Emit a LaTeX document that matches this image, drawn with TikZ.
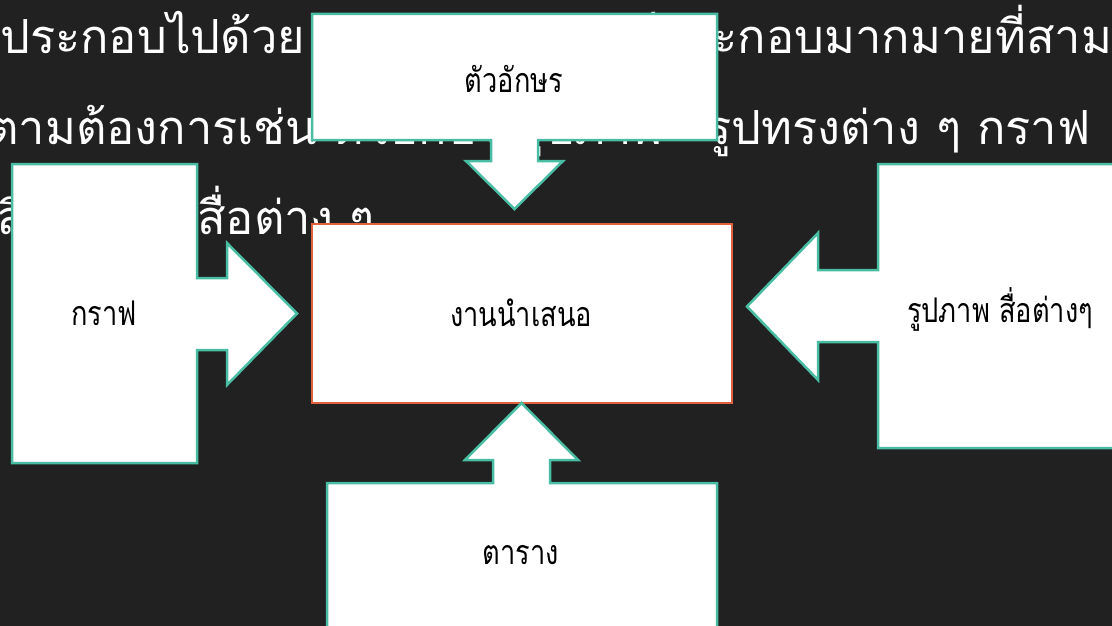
\documentclass[tikz,border=0pt]{standalone}
\usepackage{fontspec}
\newfontfamily\thaibg[Script=Thai]{Loma}
\newfontfamily\thailab[Script=Thai,FakeStretch=0.8]{Loma}
\definecolor{bgc}{RGB}{33,33,33}
\definecolor{tealc}{RGB}{72,189,163}
\definecolor{redc}{RGB}{224,96,62}
\tikzset{
  bgtext/.style={anchor=base west, inner sep=0pt, text=white, font=\thaibg\fontsize{47}{56}\selectfont},
  callout/.style={draw=tealc, fill=white, line width=2.5pt, line join=miter},
  mainbox/.style={draw=redc, fill=white, line width=2.5pt},
  lab/.style={inner sep=0pt, text=black, font=\thailab\fontsize{34}{40}\selectfont}
}
\begin{document}
\begin{tikzpicture}[x=1pt,y=-1pt]
\useasboundingbox (0,0) rectangle (1112,626);
\clip (0,0) rectangle (1112,626);
\fill[bgc] (0,0) rectangle (1112,626);
% background paragraph
\node[bgtext] (l1a) at (0,54) {ประกอบไปด้วย};
\node[bgtext] (l1b) at (626,54) {ค์ประกอบมากมายที่สามารถ};
\node[bgtext] (l2a) at (-12,144) {ตามต้องการเช่น ตัวอักษร รูปภาพ};
\node[bgtext] (l2b) at (706,144) {รูปทรงต่าง ๆ กราฟ};
\node[bgtext] (l3a) at (-4,234) {ลิงก์ และ};
\node[bgtext] (l3b) at (197,234) {สื่อต่าง ๆ};
% central box
\draw[mainbox] (312,224) rectangle (732,403);
\node[lab] (center) at (521,313) {งานนำเสนอ};
% top callout
\draw[callout] (312,14) -- (717,14) -- (717,140) -- (538,140) -- (538,161) -- (563,161) -- (514.5,209) -- (466,161) -- (491,161) -- (491,140) -- (312,140) -- cycle;
\node[lab] (top) at (514,79) {ตัวอักษร};
% left callout
\draw[callout] (12,164) -- (197,164) -- (197,278) -- (227,278) -- (227,243) -- (297,313.5) -- (227,385) -- (227,350) -- (197,350) -- (197,463) -- (12,463) -- cycle;
\node[lab] (left) at (104,313) {กราฟ};
% right callout
\draw[callout] (878,164) -- (1130,164) -- (1130,448) -- (878,448) -- (878,342) -- (818,342) -- (818,380) -- (747,306.5) -- (818,233) -- (818,270) -- (878,270) -- cycle;
\node[lab] (right) at (1000,309) {รูปภาพ สื่อต่างๆ};
% bottom callout
\draw[callout] (327,650) -- (327,483) -- (493,483) -- (493,460) -- (465,460) -- (521.5,403) -- (578,460) -- (550,460) -- (550,483) -- (717,483) -- (717,650);
\node[lab] (bottom) at (521,555) {ตาราง};
\end{tikzpicture}
\end{document}
